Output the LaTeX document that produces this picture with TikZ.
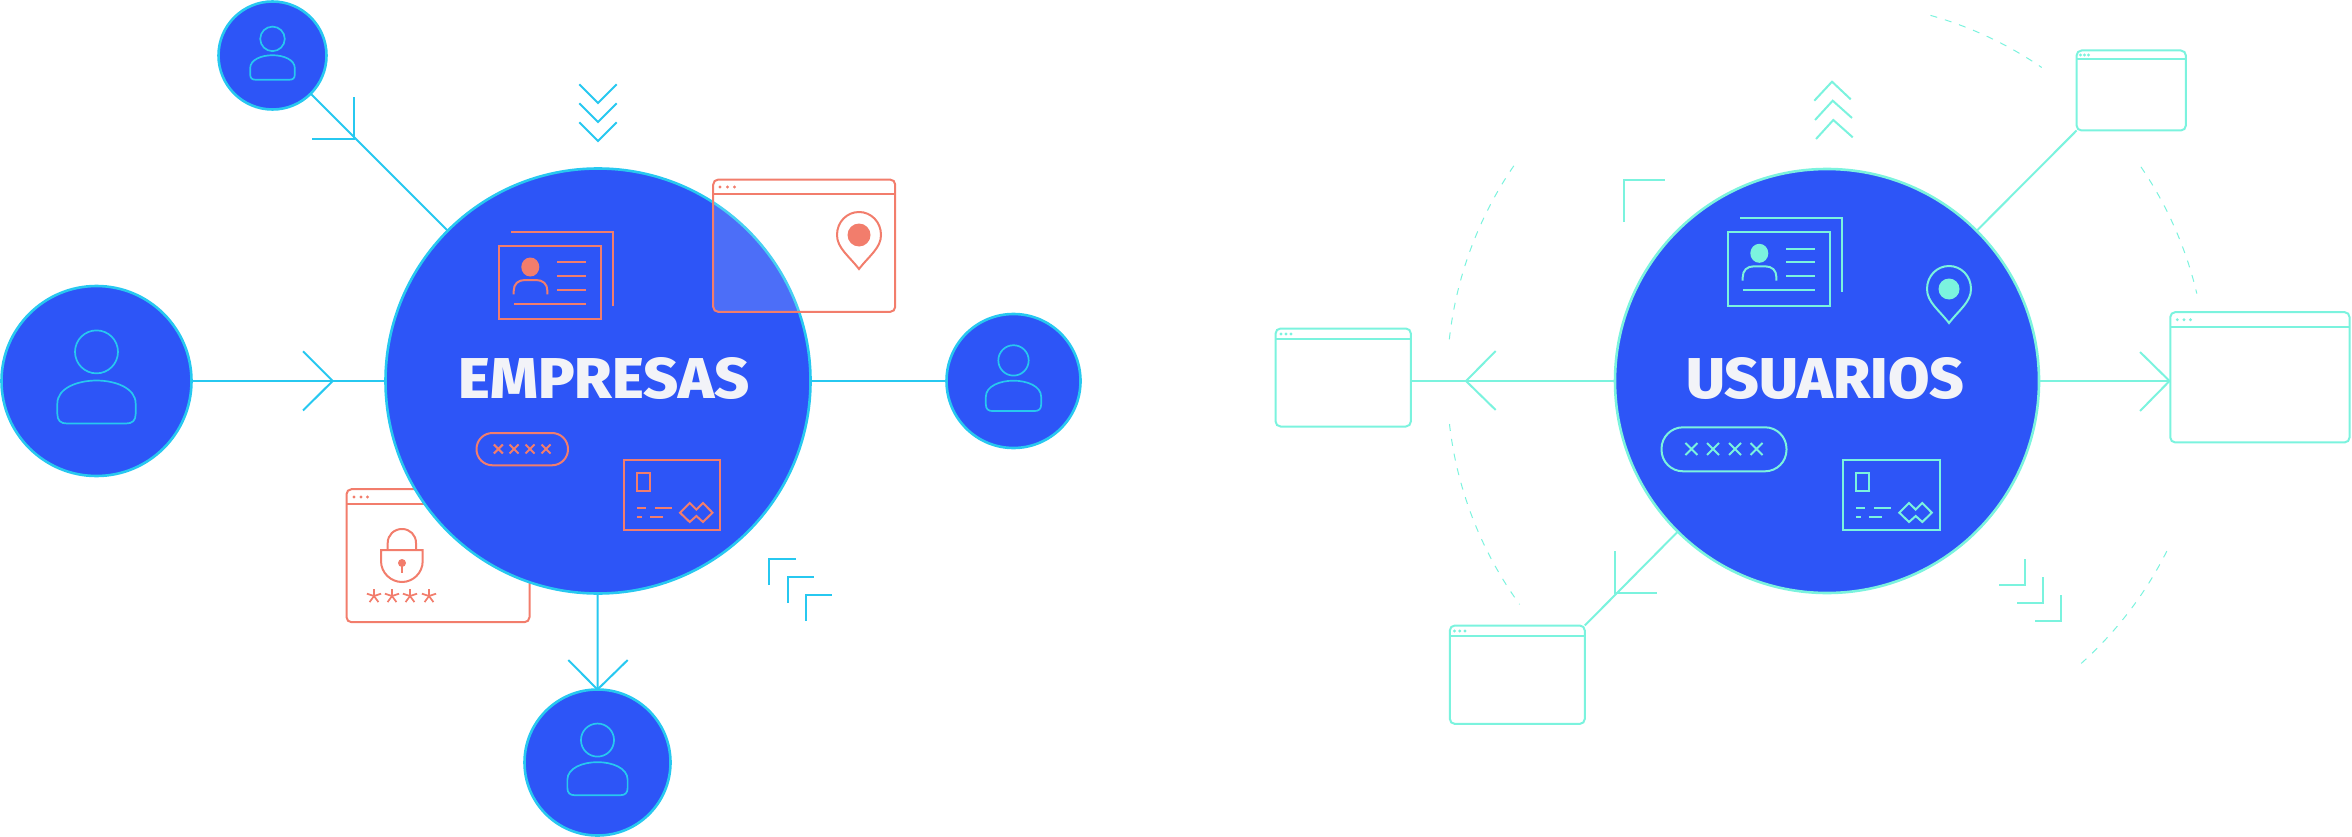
\documentclass[tikz,border=0pt]{standalone}
\usepackage{fontspec}
\usepackage{graphicx}
\newfontfamily\titlefont[BoldFont={Fira Sans ExtraBold}]{Fira Sans}
\definecolor{disc}{HTML}{2D55F7}
\definecolor{skyline}{HTML}{27C8F0}
\definecolor{coral}{HTML}{F27D6C}
\definecolor{mint}{HTML}{7BF3DE}
\definecolor{paper}{HTML}{F2F3F8}
\tikzset{
  bigdisc/.style={circle,draw=#1,fill=disc,line width=2.6pt,inner sep=0pt,outer sep=0pt},
  win/.style={draw=#1,rounded corners=5pt,line width=2pt,inner sep=0pt,outer sep=0pt},
  ln/.style={draw=#1,line width=2pt},
  thin/.style={draw=#1,line width=1.7pt},
  dots/.style={fill=#1},
  orbit/.style={mint,line width=1pt,dash pattern=on 7pt off 8pt},
  title/.style={text=paper,inner sep=0pt,font=\titlefont\bfseries}
}
% person icon
\newcommand{\personicon}[3]{%
  \begin{scope}[shift={(#1,#2)},x=#3pt,y=-#3pt]
    \draw[thin=skyline] (0,-.305) circle [radius=.225];
    \draw[thin=skyline] (-.31,.445) -- (.31,.445)
      .. controls (.375,.445) and (.41,.415) .. (.41,.345) -- (.41,.235)
      .. controls (.41,.075) and (.2,-.005) .. (0,-.005)
      .. controls (-.2,-.005) and (-.41,.075) .. (-.41,.235) -- (-.41,.345)
      .. controls (-.41,.415) and (-.375,.445) .. (-.31,.445) -- cycle;
  \end{scope}}
% browser header
\newcommand{\browserhead}[7]{% node, header y, dot1, dot2, dot3, dot y, colour
  \draw[ln=#7] (#1.west |- 0,#2) -- (#1.east |- 0,#2);
  \foreach \d in {#3,#4,#5} \fill[dots=#7] (\d,#6) circle [radius=1.6pt];}
% id card
\newcommand{\idcard}[3]{%
  \begin{scope}[shift={(#1,#2)}]
    \draw[ln=#3] (498.8,245.7) rectangle (601.3,319.3);
    \draw[ln=#3] (511,232) -- (612.8,232) -- (612.8,305.7);
    \fill[#3] (530.3,267) ellipse [x radius=9pt,y radius=9.5pt];
    \draw[ln=#3] (513.7,294.3) -- (513.7,291) .. controls (513.7,284) and (518,280) .. (525,280)
       -- (536,280) .. controls (543,280) and (547.4,284) .. (547.4,291) -- (547.4,294.3);
    \draw[ln=#3] (557,262.3) -- (585.6,262.3);
    \draw[ln=#3] (557,276) -- (585.6,276);
    \draw[ln=#3] (557,290) -- (585.6,290);
    \draw[ln=#3] (514,303.7) -- (586,303.7);
  \end{scope}}
% payment card
\newcommand{\paycard}[2]{%
  \begin{scope}[shift={(#1,0)}]
    \draw[ln=#2] (624,460) rectangle (720.4,530.3);
    \draw[ln=#2] (637,472.7) rectangle (650,490.7);
    \draw[ln=#2] (637,508) -- (646,508);
    \draw[ln=#2] (654.5,508) -- (672,508);
    \draw[ln=#2] (637,516.7) -- (642,516.7);
    \draw[ln=#2] (650,516.7) -- (663,516.7);
    \draw[ln=#2] (680,512.7) -- (689.7,503) -- (696.4,509.6) -- (703,503) -- (712.5,512.7)
       -- (703,522) -- (696.4,516) -- (689.7,522) -- cycle;
  \end{scope}}
% map pin
\newcommand{\pinicon}[4]{% x, top y, dot radius, colour
  \begin{scope}[shift={(#1,#2)}]
    \draw[draw=#4,line width=2pt] (0,57) .. controls (-10,44) and (-22,36) .. (-22,23)
       .. controls (-22,10) and (-12.2,0) .. (0,0)
       .. controls (12.2,0) and (22,10) .. (22,23)
       .. controls (22,36) and (10,44) .. (0,57) -- cycle;
    \fill[#4] (0,23) circle [radius=#3pt];
  \end{scope}}
\begin{document}
\begin{tikzpicture}[x=1pt,y=-1pt]
\useasboundingbox (0,0) rectangle (2352,837);

% ---------- left group ----------
\node[win=coral,minimum width=183pt,minimum height=133pt] (lockwin) at (438,555.7) {};
\browserhead{lockwin}{504}{354}{361}{367.5}{497}{coral}
\draw[ln=coral] (387.7,550) -- (387.7,543) .. controls (387.7,535) and (394,529) .. (402,529)
   .. controls (410,529) and (416,535) .. (416,543) -- (416,550);
\draw[ln=coral] (381,550) -- (422.7,550) -- (422.7,561) .. controls (422.7,573) and (413,582) .. (402,582)
   .. controls (391,582) and (381,573) .. (381,561) -- cycle;
\fill[coral] (402,563) circle [radius=4pt];
\draw[ln=coral] (402,563) -- (402,573);
\foreach \sx in {374,392,410,429}
  \foreach \a in {-90,-18,54,126,198}
    \draw[thin=coral] (\sx,596) -- ++(\a:7.5);

\node[bigdisc=skyline,minimum size=425pt] (empresas) at (598,381) {};
\node[bigdisc=skyline,minimum size=108pt] (ptop) at (272.5,55.5) {};
\node[bigdisc=skyline,minimum size=190pt] (pleft) at (96.5,381) {};
\node[bigdisc=skyline,minimum size=134pt] (pright) at (1013.5,381) {};
\node[bigdisc=skyline,minimum size=146pt] (pbottom) at (597.5,762.5) {};
\personicon{272.5}{55.5}{54.5}
\personicon{96.5}{381}{95.5}
\personicon{1013.5}{381}{67.5}
\personicon{597.5}{762.5}{73.5}

\draw[ln=skyline] (ptop) -- (empresas);
\draw[ln=skyline] (pleft) -- (empresas);
\draw[ln=skyline] (empresas) -- (pright);
\draw[ln=skyline] (empresas) -- (pbottom);

\coordinate (tipA) at (354,139);
\draw[ln=skyline] (354,97.5) -- (tipA) -- (312,139);
\coordinate (tipB) at (332.7,381);
\draw[ln=skyline] (303,351.3) -- (tipB) -- (303,410.5);
\coordinate (tipC) at (pbottom.north);
\draw[ln=skyline] (568.3,660) -- (tipC) -- (627.7,660);

\foreach \cy in {84.3,103.3,122.3}
  \draw[ln=skyline] (579.3,\cy) -- (598,\cy+18.7) -- (616.7,\cy);

\draw[ln=skyline] (769.3,585) -- (769.3,558.7) -- (795.7,558.7);
\draw[ln=skyline] (787.7,603) -- (787.7,576.7) -- (814,576.7);
\draw[ln=skyline] (805.7,621) -- (805.7,594.7) -- (832,594.7);

\node[win=coral,fill=white,fill opacity=.15,minimum width=182pt,minimum height=132.3pt] (locwin) at (804.2,245.7) {};
\browserhead{locwin}{194}{720}{727.5}{734.5}{187}{coral}
\pinicon{859}{212}{11.5}{coral}

\idcard{0}{0}{coral}
\paycard{0}{coral}
\draw[ln=coral,rounded corners=16pt] (476.5,433) rectangle (568,465.3);
\foreach \xx in {498.4,514,530,546}
  \draw[ln=coral] (\xx-4.5,444.5) -- (\xx+4.5,453.5) (\xx-4.5,453.5) -- (\xx+4.5,444.5);

\node[title] (titleL) at (604,378.8) {\resizebox{291pt}{41pt}{EMPRESAS}};

% ---------- right group ----------
\node[bigdisc=mint,minimum size=424pt] (usuarios) at (1827,381) {};
\node[win=mint,minimum width=109.3pt,minimum height=80pt] (wtop) at (2131.2,90.5) {};
\browserhead{wtop}{59.3}{2080.5}{2084.5}{2088.5}{55}{mint}
\node[win=mint,minimum width=179.3pt,minimum height=130.3pt] (wright) at (2259.9,377.3) {};
\browserhead{wright}{327}{2177.3}{2184}{2190.5}{319.7}{mint}
\node[win=mint,minimum width=135.3pt,minimum height=98pt] (wleft) at (1343.2,377.5) {};
\browserhead{wleft}{339}{1281}{1286}{1291}{334}{mint}
\node[win=mint,minimum width=135pt,minimum height=98.4pt] (wlow) at (1517.3,674.7) {};
\browserhead{wlow}{636}{1454.5}{1459.8}{1465}{631}{mint}

\draw[ln=mint] (usuarios) -- (wtop.south west);
\draw[ln=mint] (usuarios) -- (wlow.north east);
\draw[ln=mint] (usuarios.east) -- (usuarios.east -| wright.west);
\draw[ln=mint] (usuarios.west) -- (usuarios.west -| wleft.east);

\coordinate (tipD) at (2169.5,381);
\draw[ln=mint] (2140,352) -- (tipD) -- (2140,411);
\coordinate (tipE) at (1466,381);
\draw[ln=mint] (1495.7,351) -- (tipE) -- (1495.7,410);
\coordinate (tipF) at (1615,592.7);
\draw[ln=mint] (1615,551.4) -- (tipF) -- (1656.5,592.7);

\draw[ln=mint] (1814.3,100.7) -- (1832,81.7) -- (1850.7,99.3);
\draw[ln=mint] (1815,120) -- (1832.7,100.7) -- (1852,118);
\draw[ln=mint] (1816,139) -- (1833.3,120) -- (1852.7,137.3);

\draw[ln=mint] (1623.6,222) -- (1623.6,180) -- (1665,180);
\draw[ln=mint] (2024.7,559.3) -- (2024.7,584.7) -- (1998.7,584.7);
\draw[ln=mint] (2042.7,577) -- (2042.7,602.7) -- (2016.5,602.7);
\draw[ln=mint] (2060.7,595) -- (2060.7,620.7) -- (2034.5,620.7);

\foreach \aa/\ab in {173.7/144.4,186.5/216,74.2/55.6,34.3/13.3,-26.6/-48}
  \draw[orbit] plot[domain=\aa:\ab,samples=50] ({1827+380*cos(\x)},{381-380*sin(\x)});

\idcard{1229}{-13.7}{mint}
\paycard{1219.3}{mint}
\pinicon{1949}{266}{10.5}{mint}
\draw[ln=mint,rounded corners=21.5pt] (1661.5,427.3) rectangle (1786.5,471.3);
\foreach \xx in {1691.4,1713,1735,1756.5}
  \draw[ln=mint] (\xx-6,443) -- (\xx+6,455) (\xx-6,455) -- (\xx+6,443);

\node[title] (titleR) at (1825.3,378.8) {\resizebox{278pt}{41pt}{USUARIOS}};
\end{tikzpicture}
\end{document}
